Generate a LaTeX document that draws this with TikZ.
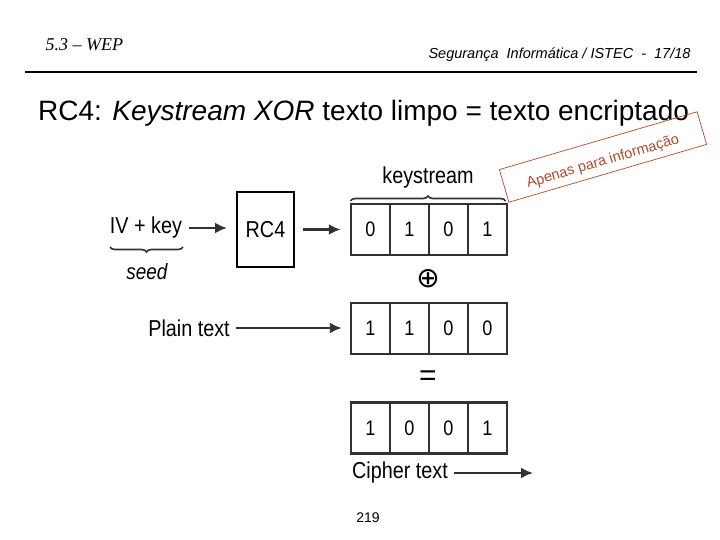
\documentclass[tikz,border=0pt]{standalone}
\usepackage{fontspec}
\setmainfont{Liberation Sans}
\newfontfamily\hdserif{Liberation Serif}
\newfontfamily\narrow[FakeStretch=0.86]{Liberation Sans}
\newfontfamily\symfont{DejaVu Sans}
\usetikzlibrary{arrows.meta, positioning, decorations.pathreplacing}
\definecolor{stampc}{RGB}{178,72,42}
\definecolor{linec}{RGB}{50,50,50}

\begin{document}
\begin{tikzpicture}[x=1pt, y=-1pt,
  lbl/.style={inner sep=0pt, font=\narrow\fontsize{23}{26}\selectfont},
  cell/.style={draw=linec, line width=2.5pt, minimum width=39pt, minimum height=51pt, inner sep=0pt, font=\narrow\fontsize{21}{24}\selectfont},
  flow/.style={draw=linec, line width=2.5pt, -{Latex[length=12pt,width=11pt]}},
  brc/.style={draw=linec, line width=1.6pt, decorate, decoration={brace, amplitude=5pt}},
  stampbox/.style={draw=stampc, line width=0.7pt, rotate=16.3, minimum width=206pt, minimum height=34pt},
  stamptext/.style={text=stampc, rotate=16.3, inner sep=0pt, font=\fontsize{14.5}{16}\selectfont},
]
\useasboundingbox (0,0) rectangle (720,540);
% ---------- header ----------
\node[anchor=west, font=\hdserif\itshape\fontsize{18}{20}\selectfont] (chap) at (42,45) {5.3 – WEP};
\node[anchor=east, font=\itshape\fontsize{14.5}{16}\selectfont] (course) at (694,55) {Segurança\ \ Informática / ISTEC\ \ -\ \ 17/18};
\draw[line width=2.5pt] (25,72) -- (697,72);
% ---------- title ----------
\node[anchor=west, inner sep=0pt, font=\fontsize{28}{32}\selectfont] (title) at (38,113) {RC4: \textit{Keystream XOR} texto limpo = texto encriptado};
\node[stampbox] (notice) at (603,157) {};
\node[stamptext] (noticetext) at (603,162) {Apenas para informação};
% ---------- seed and RC4 ----------
\node[lbl] (ivkey) at (146,228) {IV + key};
\draw[brc] (183,247) -- (110,247);
\node[lbl, font=\narrow\itshape\fontsize{22}{24}\selectfont] (seed) at (147,272) {seed};
\node[lbl, draw, line width=2pt, minimum width=57pt, minimum height=75pt] (rc4) at (265.5,229.5) {RC4};
\draw[flow, shorten <=7pt, shorten >=9pt] (ivkey.east) -- (ivkey.east -| rc4.west);
% ---------- bit rows ----------
\foreach \b [count=\i] in {0,1,0,1}
  \node[cell] (ks\i) at ({331.5+39*\i},229.5) {\b};
\foreach \b [count=\i] in {1,1,0,0}
  \node[cell] (pt\i) at ({331.5+39*\i},328.5) {\b};
\foreach \b [count=\i] in {1,0,0,1}
  \node[cell] (ct\i) at ({331.5+39*\i},428) {\b};
\draw[flow, shorten <=8pt, shorten >=9pt] (rc4.east) -- (rc4.east -| ks1.west);
\node[lbl] (kslabel) at (428,178) {keystream};
\draw[brc] (350.5,201) -- (505.5,201);
\node[font=\symfont\fontsize{28}{30}\selectfont] (xorsym) at (428,279) {⊕};
\node[font=\fontsize{30}{32}\selectfont] (eqsym) at (428,378) {=};
% ---------- plain and cipher text ----------
\node[lbl] (plain) at (189,328) {Plain text};
\draw[flow, shorten <=6pt, shorten >=8pt] (plain.east) -- (plain.east -| pt1.west);
\node[lbl, anchor=west] (cipher) at (352,473) {Cipher text};
\coordinate (out) at (533,476);
\draw[flow, shorten <=6pt] (cipher.east) -- (cipher.east -| out);
% ---------- page ----------
\node[font=\fontsize{14}{16}\selectfont] (pagenum) at (368,518) {219};
\end{tikzpicture}
\end{document}
